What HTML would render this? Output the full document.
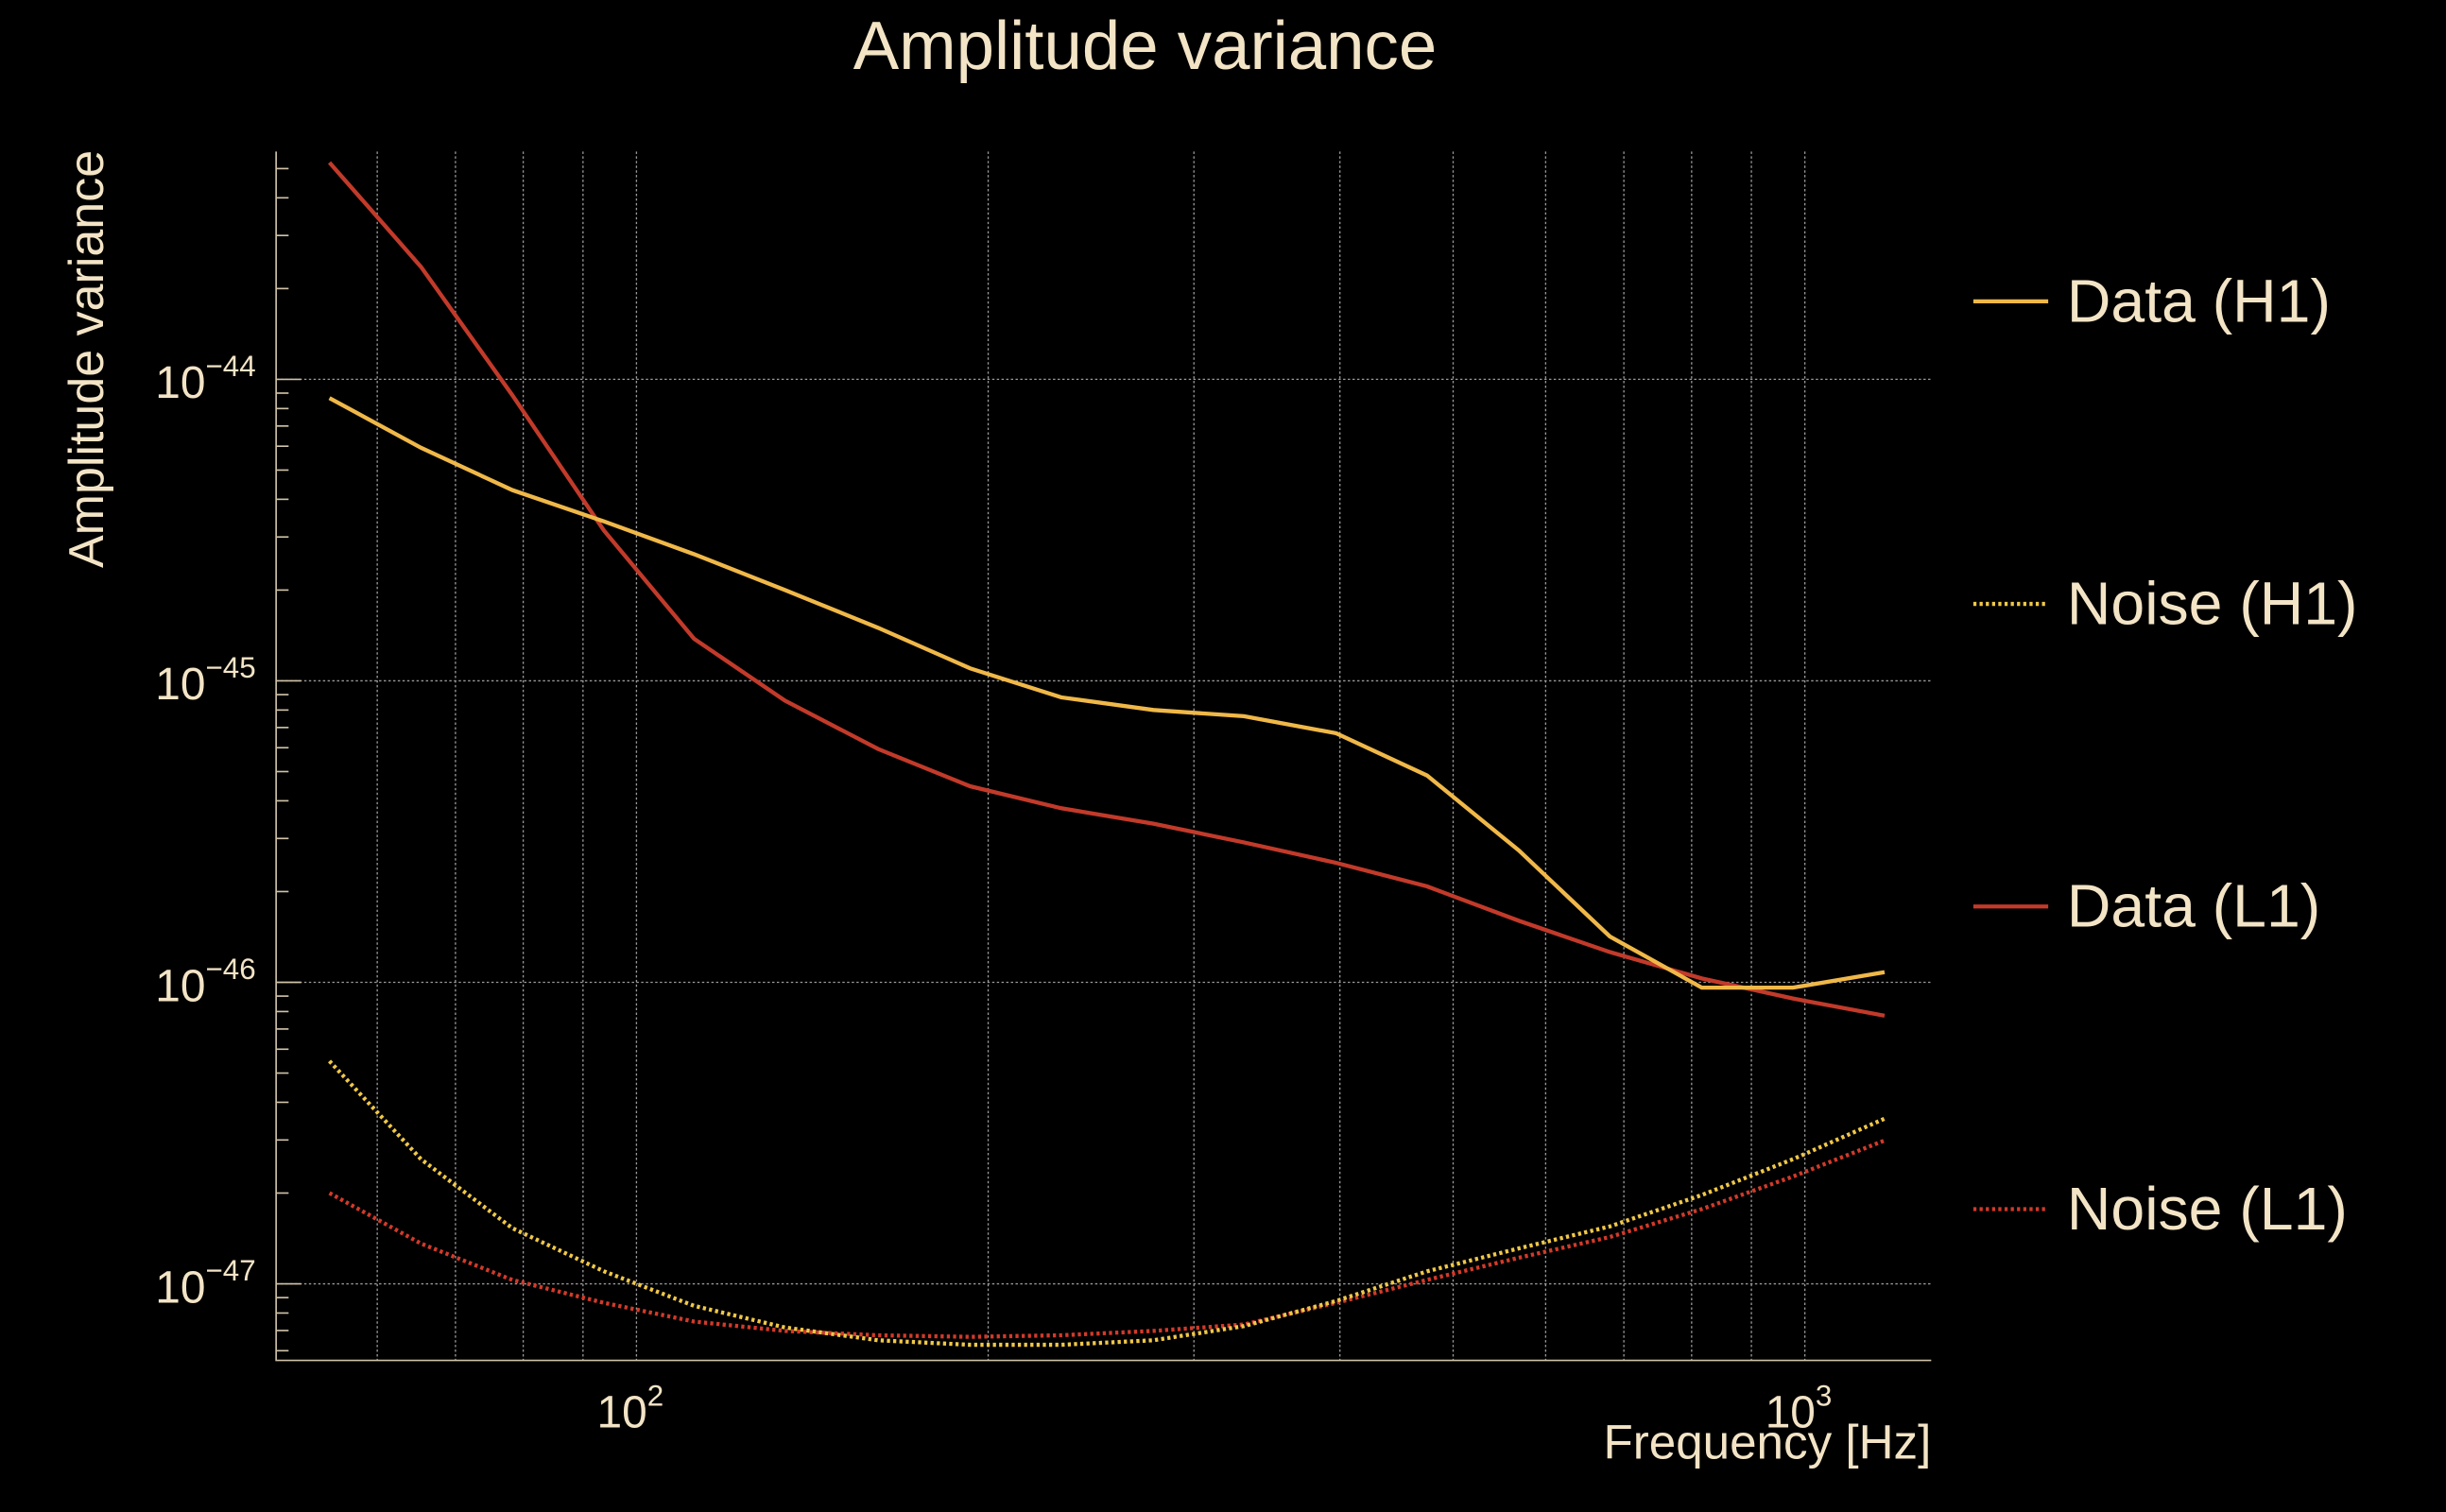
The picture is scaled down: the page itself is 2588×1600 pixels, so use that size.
<!DOCTYPE html>
<html><head><meta charset="utf-8"><style>
html,body{margin:0;padding:0;background:#000;}
svg{display:block;}
text{font-family:"Liberation Sans",sans-serif;fill:#f3e4c6;}
</style></head><body>
<svg id="chart" width="2588" height="1600" viewBox="0 0 1568 969" xmlns="http://www.w3.org/2000/svg">
<rect x="0" y="0" width="1568" height="969" fill="#000"/>
<text x="734" y="44" font-size="44" text-anchor="middle">Amplitude variance</text>
<text transform="translate(66,230) rotate(-90)" font-size="31.5" text-anchor="middle">Amplitude variance</text>
<text x="1238" y="935" font-size="31" text-anchor="end">Frequency [Hz]</text>
<g id="grid"></g>
<g id="axes"></g>
<g id="series"></g>
<g id="legend"></g>
</svg>
<script>
const freqs=[54.6,65.4,78.3,93.8,112,134,161,193,231,277,331,397,475,569,681,816,977,1170];
const dataH1=[8.67e-45,5.93e-45,4.29e-45,3.38e-45,2.63e-45,2.00e-45,1.50e-45,1.10e-45,8.81e-46,8.00e-46,7.63e-46,6.70e-46,4.85e-46,2.74e-46,1.42e-46,9.6e-47,9.6e-47,1.08e-46];
const dataL1=[5.24e-44,2.36e-44,8.87e-45,3.15e-45,1.38e-45,8.6e-46,5.94e-46,4.47e-46,3.78e-46,3.36e-46,2.91e-46,2.49e-46,2.08e-46,1.60e-46,1.26e-46,1.03e-46,8.83e-47,7.75e-47];
const noiseH1=[5.48e-47,2.59e-47,1.53e-47,1.10e-47,8.45e-48,7.16e-48,6.50e-48,6.28e-48,6.28e-48,6.50e-48,7.24e-48,8.77e-48,1.10e-47,1.31e-47,1.55e-47,1.97e-47,2.59e-47,3.53e-47];
const noiseL1=[2.0e-47,1.36e-47,1.03e-47,8.65e-48,7.50e-48,6.98e-48,6.75e-48,6.67e-48,6.75e-48,6.98e-48,7.33e-48,8.65e-48,1.03e-47,1.22e-47,1.43e-47,1.77e-47,2.27e-47,2.99e-47];
const yTickExps=[-44,-45,-46,-47];
const xTickExps=[2,3];
const xGridFreqs=[60,70,80,90,100,200,300,400,500,600,700,800,900,1000];
const seriesNames=["Data (H1)","Noise (H1)","Data (L1)","Noise (L1)"];

const NS="http://www.w3.org/2000/svg";
const L=177,R=1238,T=97,B=872;
function xs(f){return 408+(Math.log10(f)-2)*749;}
function ys(v){return 243+(-44-Math.log10(v))*193.3;}
function mk(tag,attrs,parent){const e=document.createElementNS(NS,tag);for(const k in attrs)e.setAttribute(k,attrs[k]);parent.appendChild(e);return e;}
const grid=document.getElementById('grid'),axes=document.getElementById('axes'),ser=document.getElementById('series'),leg=document.getElementById('legend');
xGridFreqs.forEach(f=>{const l=mk('line',{x1:xs(f),x2:xs(f),y1:T,y2:B,stroke:'#9a9a9a','stroke-width':0.8,'stroke-dasharray':'1.5,1.5'},grid);

});
yTickExps.forEach(e=>{const y=ys(Math.pow(10,e));const l=mk('line',{x1:L,x2:R,y1:y,y2:y,stroke:'#9a9a9a','stroke-width':0.8,'stroke-dasharray':'1.5,1.5'},grid);


const t=mk('text',{x:164,y:y+12,'font-size':29,'text-anchor':'end'},axes);


t.innerHTML='10<tspan dy="-14" font-size="19">\u2212'+(-e)+'</tspan>';});
for(let e=-48;e<=-43;e++){for(let m=1;m<10;m++){const v=m*Math.pow(10,e);const y=ys(v);if(y<T||y>B)continue;const len=m===1?16:8;
const l=mk('line',{x1:L,x2:L+len,y1:y,y2:y,stroke:'#cfc2a8','stroke-width':1},axes);

}}
xTickExps.forEach(e=>{const x=xs(Math.pow(10,e));const t=mk('text',{x:x-4,y:915,'font-size':29,'text-anchor':'middle'},axes);


t.innerHTML='10<tspan dy="-14" font-size="19">'+e+'</tspan>';});
const fr=mk('path',{d:`M${L},${T}V${B}H${R}`,stroke:'#cfc2a8','stroke-width':1,fill:'none'},axes);


const colors=['#f0b848','#f0c848','#c23a2a','#d23a2a'];
const dashes=[null,'2,2',null,'2,2'];
const allData=[dataH1,noiseH1,dataL1,noiseL1];
const names=['data-h1-line','noise-h1-line','data-l1-line','noise-l1-line'];
[2,0,3,1].forEach(i=>{const d=allData[i].map((v,j)=>(j?'L':'M')+xs(freqs[j]).toFixed(1)+','+ys(v).toFixed(1)).join('');
const a={d:d,stroke:colors[i],'stroke-width':2.6,fill:'none'};if(dashes[i])a['stroke-dasharray']=dashes[i];
const p=mk('path',a,ser);

});
seriesNames.forEach((n,i)=>{const y=193+i*194;
const g=mk('g',{},leg);


const a={x1:1265,x2:1313,y1:y,y2:y,stroke:colors[i],'stroke-width':2.6};if(dashes[i])a['stroke-dasharray']=dashes[i];
const l=mk('line',a,g);


const t=mk('text',{x:1325,y:y+13,'font-size':39},g);


t.textContent=n;});
</script>
</body></html>
